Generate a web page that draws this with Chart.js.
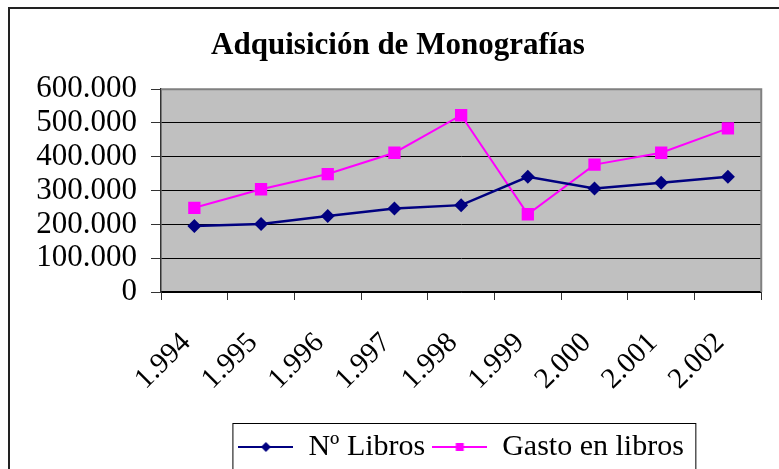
<!DOCTYPE html>
<html>
<head>
<meta charset="utf-8">
<script src="https://cdn.jsdelivr.net/npm/chart.js@4.4.1/dist/chart.umd.min.js"></script>
<style>
  body { margin: 0; background: #fff; }
  #wrap { width: 779px; height: 469px; }
</style>
</head>
<body>
<div id="wrap"><canvas id="chart" width="779" height="469"></canvas></div>
<script>
// Datos
const years = ['1.994', '1.995', '1.996', '1.997', '1.998', '1.999', '2.000', '2.001', '2.002'];
const libros = [195000, 201000, 225000, 247000, 257000, 341000, 306000, 323000, 341000];
const gasto = [249000, 304000, 349000, 412000, 523000, 230000, 377000, 412000, 484000];
const yTicks = [0, 100000, 200000, 300000, 400000, 500000, 600000];

const SERIF = "'Liberation Serif', 'Times New Roman', serif";
const NAVY = '#000080';
const MAGENTA = '#FF00FF';

function fmt(v) {
    return String(v).replace(/\B(?=(\d{3})+(?!\d))/g, '.');
}

// Legend symbol: short line with marker in the middle
function makeSymbol(color, shape) {
    const c = document.createElement('canvas');
    c.width = 55; c.height = 16;
    const g = c.getContext('2d');
    g.strokeStyle = color;
    g.lineWidth = 2;
    g.beginPath(); g.moveTo(0, 8); g.lineTo(55, 8); g.stroke();
    g.fillStyle = color;
    g.beginPath();
    if (shape === 'diamond') {
        g.moveTo(27.5, 3); g.lineTo(32.5, 8); g.lineTo(27.5, 13); g.lineTo(22.5, 8);
    } else {
        g.rect(23.5, 4, 8, 8);
    }
    g.closePath(); g.fill();
    return c;
}
const symbols = [makeSymbol(NAVY, 'diamond'), makeSymbol(MAGENTA, 'square')];

const decor = {
    id: 'decor',
    beforeDraw(chart) {
        const { ctx, chartArea: a } = chart;
        ctx.save();
        ctx.fillStyle = '#C0C0C0';
        ctx.fillRect(a.left, a.top, a.right - a.left, a.bottom - a.top);
        ctx.restore();
    },
    beforeDatasetsDraw(chart) {
        const { ctx, chartArea: a } = chart;
        ctx.save();
        ctx.strokeStyle = '#808080';
        ctx.lineWidth = 2;
        ctx.beginPath();
        ctx.moveTo(a.left, a.top); ctx.lineTo(a.right, a.top); ctx.lineTo(a.right, a.bottom);
        ctx.stroke();
        ctx.restore();
    },
    afterDraw(chart) {
        const { ctx } = chart;
        ctx.save();
        // outer frame
        ctx.strokeStyle = '#222';
        ctx.lineWidth = 2;
        ctx.strokeRect(9, 8, 820, 520);
        // legend frame
        const hb = chart.legend.legendHitBoxes;
        if (hb && hb.length) {
            const first = hb[0], last = hb[hb.length - 1];
            ctx.strokeStyle = '#000';
            ctx.lineWidth = 1;
            ctx.strokeRect(first.left - 5.5, chart.legend.top - 1.5, (last.left + last.width) - first.left + 17.5, 80);
        }
        ctx.restore();
    }
};

new Chart(document.getElementById('chart'), {
    type: 'line',
    data: {
        labels: years,
        datasets: [
            {
                label: 'Nº Libros',
                data: libros,
                borderColor: NAVY,
                backgroundColor: NAVY,
                borderWidth: 2.5,
                pointStyle: 'rectRot',
                pointRadius: 7,
                pointBorderWidth: 0,
                tension: 0
            },
            {
                label: 'Gasto en libros',
                data: gasto,
                borderColor: MAGENTA,
                backgroundColor: MAGENTA,
                borderWidth: 2,
                pointStyle: 'rect',
                pointRadius: 8.7,
                pointBorderWidth: 0,
                tension: 0
            }
        ]
    },
    options: {
        responsive: false,
        animation: false,
        layout: { padding: { left: 25, right: 8, top: 8, bottom: -3 } },
        plugins: {
            title: {
                display: true,
                text: 'Adquisición de Monografías',
                color: '#000',
                font: { family: SERIF, size: 31, weight: 'bold' },
                padding: { top: 19, bottom: 25 }
            },
            legend: {
                position: 'bottom',
                fullSize: false,
                labels: {
                    color: '#000',
                    font: { family: SERIF, size: 30 },
                    usePointStyle: true,
                    pointStyleWidth: 55,
                    boxHeight: 16,
                    padding: 7,
                    generateLabels(chart) {
                        const items = Chart.defaults.plugins.legend.labels.generateLabels(chart);
                        items.forEach((it, i) => { it.pointStyle = symbols[i]; });
                        return items;
                    }
                }
            },
            tooltip: { enabled: false }
        },
        scales: {
            x: {
                offset: true,
                afterFit(scale) { scale.height = 133; },
                grid: {
                    offset: true,
                    drawOnChartArea: false,
                    drawTicks: true,
                    tickLength: 8,
                    tickColor: '#333'
                },
                border: { color: '#000', width: 1.5 },
                ticks: {
                    color: '#000',
                    font: { family: SERIF, size: 29 },
                    maxRotation: 45,
                    minRotation: 45,
                    padding: 26,
                    labelOffset: -8,
                    autoSkip: false
                }
            },
            y: {
                min: 0,
                max: 600000,
                afterFit(scale) { scale.width = 136; },
                afterBuildTicks(scale) { scale.ticks = yTicks.map(v => ({ value: v })); },
                grid: {
                    color: ctx => (ctx.tick && ctx.tick.value === 600000) ? '#808080' : '#000',
                    lineWidth: 1,
                    drawTicks: true,
                    tickLength: 10,
                    tickColor: '#333'
                },
                border: { color: '#333', width: 1.5 },
                ticks: {
                    color: '#000',
                    font: { family: SERIF, size: 31 },
                    padding: 14,
                    autoSkip: false,
                    callback: v => fmt(v)
                }
            }
        }
    },
    plugins: [decor]
});
</script>
</body>
</html>
